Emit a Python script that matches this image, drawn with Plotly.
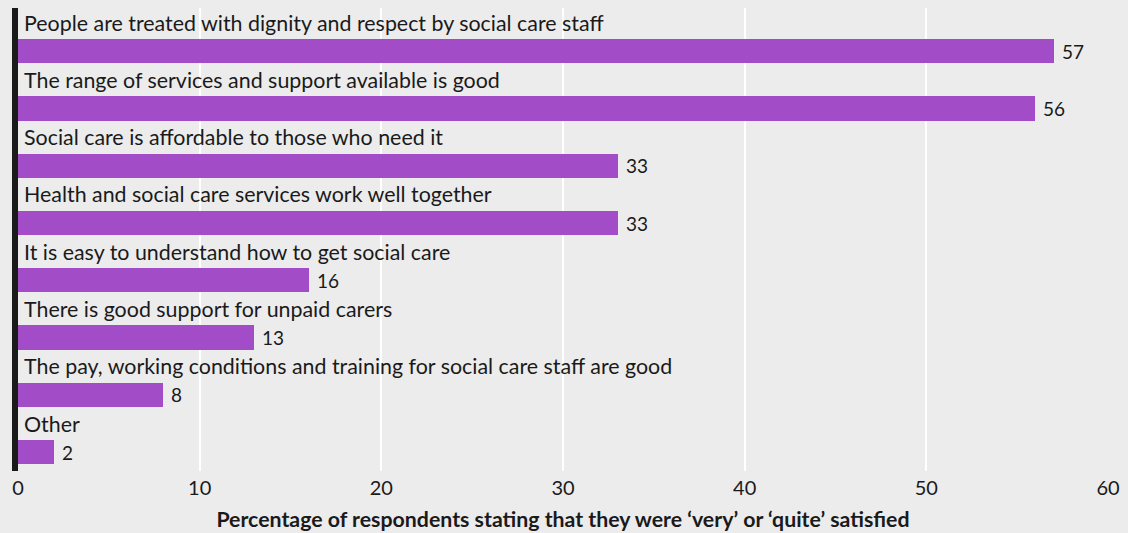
import plotly.graph_objects as go

categories = [
    "People are treated with dignity and respect by social care staff",
    "The range of services and support available is good",
    "Social care is affordable to those who need it",
    "Health and social care services work well together",
    "It is easy to understand how to get social care",
    "There is good support for unpaid carers",
    "The pay, working conditions and training for social care staff are good",
    "Other",
]
values = [57, 56, 33, 33, 16, 13, 8, 2]
x_ticks = [0, 10, 20, 30, 40, 50, 60]
x_title = "Percentage of respondents stating that they were \u2018very\u2019 or \u2018quite\u2019 satisfied"

FONT = "Lato, 'Noto Sans', sans-serif"
BAR = "#a24dc7"
BG = "#ececec"
INK = "#1a1a1a"

pos = list(range(len(categories)))

fig = go.Figure()
fig.add_trace(go.Bar(
    x=values, y=pos, orientation="h", width=0.424,
    marker=dict(color=BAR, line=dict(width=0)),
    hoverinfo="skip",
))

annotations = []
for p, c, v in zip(pos, categories, values):
    annotations.append(dict(
        x=0, y=p - 0.5, xref="x", yref="y", text=c, showarrow=False,
        xanchor="left", yanchor="middle", xshift=4,
        font=dict(family=FONT, size=21.4, color=INK),
    ))
    annotations.append(dict(
        x=v, y=p, xref="x", yref="y", text=str(v), showarrow=False,
        xanchor="left", yanchor="middle", xshift=6,
        font=dict(family=FONT, size=19, color=INK),
    ))

fig.update_layout(
    width=1128, height=533,
    margin=dict(l=18, r=20, t=8, b=62, autoexpand=False),
    paper_bgcolor=BG, plot_bgcolor=BG,
    showlegend=False,
    bargap=0,
    annotations=annotations,
    xaxis=dict(
        range=[0, 60], tickvals=x_ticks, ticktext=[str(t) for t in x_ticks],
        showgrid=True, gridcolor="#ffffff", gridwidth=2,
        zeroline=False, showline=False, ticks="",
        ticklabelstandoff=3, automargin=False,
        tickfont=dict(family=FONT, size=20, color=INK),
        title=dict(text="<b>" + x_title + "</b>", font=dict(family=FONT, size=21.3, color=INK), standoff=14),
        fixedrange=True,
    ),
    yaxis=dict(
        range=[7.328, -0.754], showgrid=False, zeroline=False, showticklabels=False,
        ticks="", showline=False, fixedrange=True, automargin=False,
    ),
    shapes=[dict(type="line", xref="paper", yref="paper", xsizemode="pixel", xanchor=0,
                 x0=-3, x1=-3, y0=0, y1=1,
                 line=dict(color=INK, width=6), layer="above")],
)

fig.write_html("out.html", config={"displayModeBar": False},
               post_script="document.body.style.margin='0';")
